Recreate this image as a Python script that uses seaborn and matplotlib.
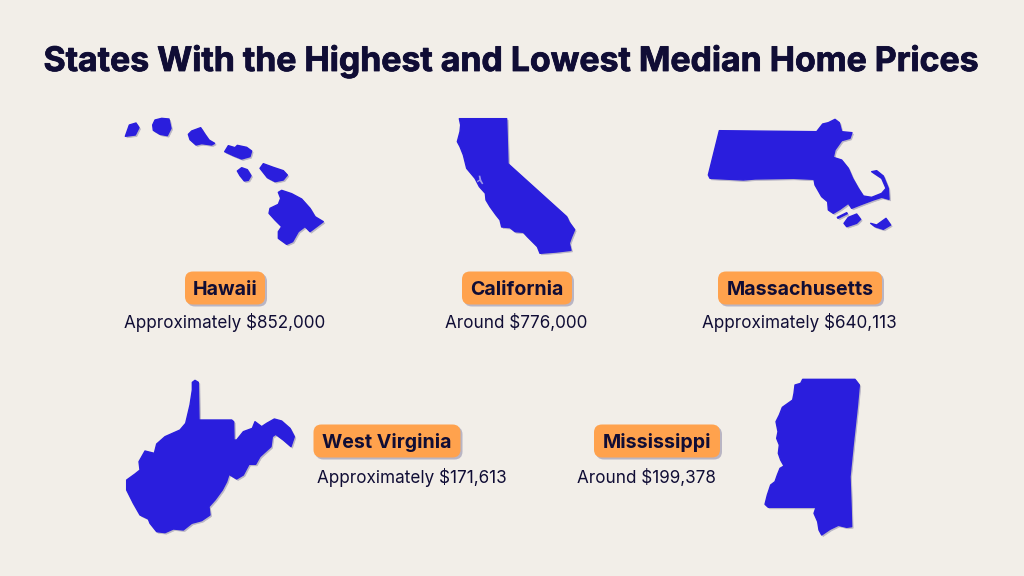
"""Infographic: states with the highest and lowest median home prices."""

import numpy as np
import matplotlib.pyplot as plt
import matplotlib.patheffects as pe
import seaborn as sns
from matplotlib.patches import FancyBboxPatch

TITLE = "States With the Highest and Lowest Median Home Prices"
STATES = ["Hawaii", "California", "Massachusetts", "West Virginia", "Mississippi"]
PRICE_PREFIX = ["Approximately", "Around", "Approximately", "Approximately", "Around"]
PRICES = [852000, 776000, 640113, 171613, 199378]

# outlines, in pixels of a crop (scaled 3x)
HAWAII = [
    [(46,94),(58,60),(78,54),(87,68),(76,90)],
    [(128,60),(135,45),(155,40),(177,42),(183,70),(172,92),(150,88),(130,76)],
    [(235,88),(245,78),(272,68),(285,88),(297,105),(314,115),(305,120),(275,116),(258,120),(240,104)],
    [(344,140),(355,122),(375,128),(382,121),(410,127),(425,138),(420,155),(395,162),(370,152)],
    [(382,198),(395,188),(412,194),(423,212),(415,226),(403,228),(390,212)],
    [(450,190),(460,176),(490,187),(520,197),(532,210),(520,225),(495,230),(472,218)],
    [(505,262),(515,256),(545,266),(575,282),(600,310),(615,335),(640,350),(600,380),(585,365),(565,380),
     (548,410),(530,418),(505,400),(505,380),(515,365),(495,345),(477,325),(480,310),(505,298),(512,280)],
]
CALIFORNIA = [
    [(58,41),(200,41),(204,176),(380,335),(388,352),(404,374),(394,398),(388,415),(393,436),(350,441),
     (300,445),(292,425),(262,395),(250,382),(225,380),(210,368),(185,366),(180,345),(168,330),(150,305),
     (138,285),(136,265),(118,245),(105,220),(80,190),(70,150),(60,125),(52,110),(60,80),(62,60)],
]
CALIFORNIA_BAY = [(116,212),(121,212),(124,225),(130,236),(126,238),(119,228),(112,232),(111,228),(118,224)]
MASSACHUSETTS = [
    [(58,62),(350,65),(368,42),(385,38),(405,28),(418,38),(425,65),(456,68),(450,85),(425,92),(405,120),(400,142),
     (425,150),(445,175),(458,205),(475,235),(490,258),(515,262),(545,250),(558,235),(545,205),(515,185),
     (530,182),(550,198),(565,235),(567,268),(545,262),(520,270),(480,285),(455,295),(445,280),(420,298),
     (400,310),(385,300),(383,275),(365,260),(345,225),(342,208),(280,205),(165,207),(130,210),(30,205),(25,195)],
    [(432,340),(445,322),(470,312),(482,328),(470,340),(440,350)],
    [(512,340),(530,345),(558,325),(572,345),(550,358),(525,350)],
    [(412,322),(440,308),(442,311),(414,325)],
]
WEST_VIRGINIA = [
    [(232,22),(240,16),(250,22),(252,135),(350,135),(356,140),(357,195),(365,195),(385,170),(412,160),(420,140),
     (440,155),(455,145),(478,132),(500,138),(525,160),(538,185),(528,215),(505,195),(482,178),(472,185),(468,215),
     (435,245),(422,268),(402,268),(385,300),(365,312),(342,298),(335,320),(322,345),(300,375),(282,395),(285,420),
     (260,437),(230,445),(205,465),(175,462),(150,473),(125,470),(105,445),(100,432),(75,420),(55,385),(35,345),
     (35,315),(60,297),(75,285),(72,260),(90,228),(118,235),(125,207),(150,185),(195,165),(212,145),(225,90),(232,45)],
]
MISSISSIPPI = [
    [(158,28),(315,28),(328,45),(322,110),(310,220),(300,320),(303,400),(305,470),(290,472),(265,466),(240,478),
     (215,495),(207,480),(203,455),(192,430),(198,412),(120,412),(55,412),(45,403),(52,375),(62,345),(75,335),
     (82,315),(90,295),(102,288),(92,270),(85,250),(88,225),(80,205),(84,185),(78,155),(88,135),(97,112),(128,90),
     (132,70),(135,45),(152,40)],
]
OUTLINES = [HAWAII, CALIFORNIA, MASSACHUSETTS, WEST_VIRGINIA, MISSISSIPPI]

BG = "#F2EEE8"
BLUE = "#2A1EDD"
ORANGE = "#FFA24D"
INK = "#100D35"
SHADOW = "#B9B5C4"

sns.set_theme(style="white", rc={"figure.facecolor": BG, "axes.facecolor": BG})
plt.rcParams["font.family"] = ["Inter", "DejaVu Sans"]

fig, ax = plt.subplots(figsize=(10.24, 5.76), dpi=100)
fig.subplots_adjust(0, 0, 1, 1)
ax.set_xlim(0, 1024)
ax.set_ylim(576, 0)
ax.axis("off")

ax.text(512, 58, TITLE, ha="center", va="center_baseline", fontsize=24.35, fontweight="bold", color=INK,
        path_effects=[pe.withStroke(linewidth=0.6, foreground=INK)])

# crop origin of each outline
origins = [(110, 105), (440, 105), (700, 110), (115, 375), (750, 370)]
pills = [(225, 288, 80), (517, 288, 110), (800, 288, 164), (387, 441, 147), (657, 441, 126)]
amounts = [(225, 321), (516, 321), (799, 321), (412, 475.5), (646, 475.5)]

for state, prefix, price, shapes, origin, pill, amount in zip(
    STATES, PRICE_PREFIX, PRICES, OUTLINES, origins, pills, amounts
):
    for shape in shapes:
        pts = np.array(shape) / 3 + origin
        ax.fill(pts[:, 0] + 1.5, pts[:, 1] + 1.5, fc=SHADOW, ec=SHADOW, lw=0.5, joinstyle="round", zorder=1)
        ax.fill(pts[:, 0], pts[:, 1], fc=BLUE, ec=BLUE, lw=1, joinstyle="round", zorder=2)

    cx, cy, w = pill
    h = 33
    for dx, color, z in [(2, SHADOW, 1), (0, ORANGE, 2)]:
        ax.add_patch(FancyBboxPatch(
            (cx - w / 2 + 8 + dx, cy - h / 2 + 8 + dx), w - 16, h - 16,
            boxstyle="round,pad=8,rounding_size=8", fc=color, ec="none", zorder=z,
        ))
    ax.text(cx, cy, state, ha="center", va="center_baseline", fontsize=14.1,
            fontweight="bold", color=INK, zorder=3)
    ax.text(amount[0], amount[1], f"{prefix} ${price:,}", ha="center", va="center_baseline",
            fontsize=12.3, color=INK, zorder=3)

# San Francisco bay cut into the California outline
bay = np.array(CALIFORNIA_BAY) / 3 + origins[1]
ax.fill(bay[:, 0], bay[:, 1], fc="#9C97E8", lw=0, zorder=3)

fig.savefig("out.png", dpi=100, facecolor=BG)
